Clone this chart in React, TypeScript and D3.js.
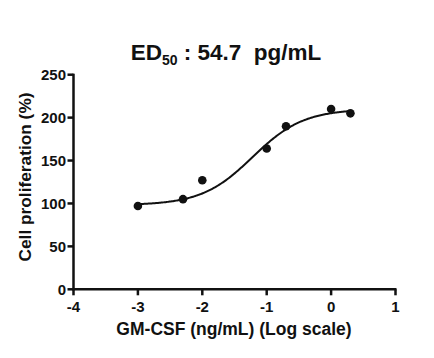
import React from "react";
import * as d3 from "d3";

// Data (log10 of GM-CSF ng/mL, cell proliferation %)
const logConc = [-3, -2.3, -2, -1, -0.7, 0, 0.3];
const proliferation = [97, 105, 127, 164, 190, 210, 205];

// 4-parameter logistic fit parameters
const fitBottom = 98;
const fitTop = 210;
const fitLogEC50 = -1.22;
const fitHill = 1.1;

const xTicks = [-4, -3, -2, -1, 0, 1];
const yTicks = [0, 50, 100, 150, 200, 250];

const W = 434;
const H = 358;
const FONT = "'Liberation Sans', Arial, Helvetica, sans-serif";

export default function App() {
  const x = d3.scaleLinear().domain([-4, 1]).range([73.5, 395.5]);
  const y = d3.scaleLinear().domain([0, 250]).range([289.3, 74.7]);

  const fitFn = (v: number) =>
    fitBottom + (fitTop - fitBottom) / (1 + Math.pow(10, (fitLogEC50 - v) * fitHill));
  const curveXs = d3.range(0, 201).map((i) => logConc[0] + ((logConc[logConc.length - 1] - logConc[0]) * i) / 200);
  const line = d3
    .line<number>()
    .x((d) => x(d))
    .y((d) => y(fitFn(d)));

  const axisColor = "#111";

  return (
    <svg
      width={W}
      height={H}
      style={{ position: "absolute", left: 0, top: 0, background: "#fff" }}
      fontFamily={FONT}
    >
      <rect x={0} y={0} width={W} height={H} fill="#fff" />
      {/* Title */}
      <text x={226} y={60} textAnchor="middle" fontSize={22.5} fontWeight="bold" fill="#111" style={{ whiteSpace: "pre" }}>
        <tspan>ED</tspan>
        <tspan fontSize={14} dy={5}>50</tspan>
        <tspan dy={-5}>{" : 54.7  pg/mL"}</tspan>
      </text>

      {/* Y axis */}
      <line x1={x(-4)} x2={x(-4)} y1={y(250) - 1} y2={y(0) + 1} stroke={axisColor} strokeWidth={2.5} />
      {yTicks.map((t) => (
        <g key={"y" + t}>
          <line x1={x(-4) - 6} x2={x(-4)} y1={y(t)} y2={y(t)} stroke={axisColor} strokeWidth={2.5} />
          <text x={x(-4) - 7.5} y={y(t)} dy="0.36em" textAnchor="end" fontSize={15} fontWeight="bold" fill="#111">
            {t}
          </text>
        </g>
      ))}

      {/* X axis */}
      <line x1={x(-4) - 1} x2={x(1) + 1} y1={y(0)} y2={y(0)} stroke={axisColor} strokeWidth={2.5} />
      {xTicks.map((t) => (
        <g key={"x" + t}>
          <line x1={x(t)} x2={x(t)} y1={y(0)} y2={y(0) + 6} stroke={axisColor} strokeWidth={2.5} />
          <text x={x(t)} y={311.5} textAnchor="middle" fontSize={15} fontWeight="bold" fill="#111">
            {t < 0 ? "-" + Math.abs(t) : String(t)}
          </text>
        </g>
      ))}

      {/* Axis titles */}
      <text x={234} y={335} textAnchor="middle" fontSize={17.5} fontWeight="bold" fill="#111">
        GM-CSF (ng/mL) (Log scale)
      </text>
      <text
        transform={`translate(31,177) rotate(-90)`}
        textAnchor="middle"
        fontSize={17.3}
        fontWeight="bold"
        fill="#111"
      >
        Cell proliferation (%)
      </text>

      {/* Fit curve */}
      <path d={line(curveXs) || ""} fill="none" stroke="#111" strokeWidth={2} />

      {/* Points */}
      {logConc.map((c, i) => (
        <circle key={"p" + i} cx={x(c)} cy={y(proliferation[i])} r={4.3} fill="#111" />
      ))}
    </svg>
  );
}
